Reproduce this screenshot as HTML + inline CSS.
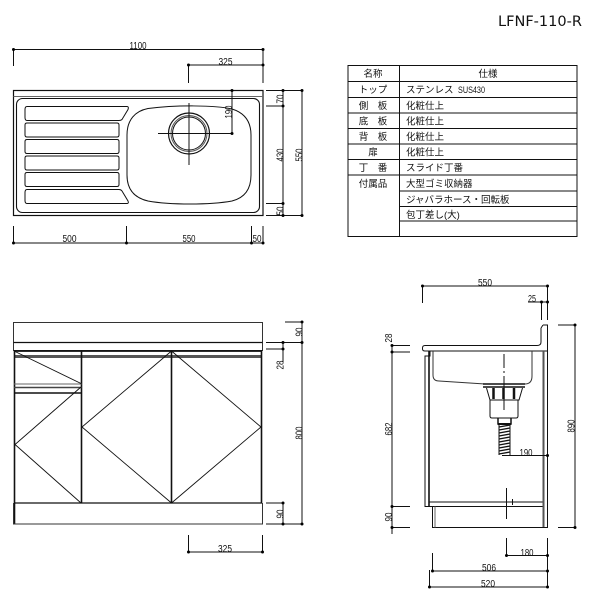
<!DOCTYPE html>
<html><head><meta charset="utf-8"><style>
html,body{margin:0;padding:0;background:#fff}
svg{display:block}
text{font-family:"Liberation Sans",sans-serif;fill:#111}
.d{font-size:10px;text-anchor:middle}
.j{font-family:"Liberation Sans","Noto Sans CJK JP",sans-serif;font-size:9.5px}
.c{text-anchor:middle}
</style></head><body>
<svg width="600" height="600" viewBox="0 0 600 600" xmlns="http://www.w3.org/2000/svg">
<defs>
<circle id="p" r="1.5" fill="#000"/>
</defs>
<text x="498" y="26" style="font-family:'DejaVu Sans',sans-serif;font-size:14.5px" textLength="84" lengthAdjust="spacingAndGlyphs">LFNF-110-R</text>

<!-- plan view -->
<g fill="none" stroke="#111" stroke-width="1">
<path d="M13.500 49.500H263M13.500 49.500V66M188.500 65H263M188.500 65V83M263 49.500V83"/>
<rect x="13.500" y="90.500" width="249.500" height="125" stroke-width="1.200"/>
<path d="M13.500 96.500H263" stroke="#666"/>
<rect x="16.500" y="98.500" width="243" height="114" rx="6" stroke-width="1.100"/>
<path d="M27 106.500H127q2 0 1 3l-6 10q-1 1-3 1H27q-2 0-2-3v-8q0-3 2-3z"/>
<path d="M27 123H117q2 0 2 2v10q0 2-2 2H27q-2 0-2-2v-10q0-2 2-2z"/>
<path d="M27 139.500H117q2 0 2 2v10q0 2-2 2H27q-2 0-2-2v-10q0-2 2-2z"/>
<path d="M27 156H117q2 0 2 2v10q0 2-2 2H27q-2 0-2-2v-10q0-2 2-2z"/>
<path d="M27 172.500H117q2 0 2 2v10q0 2-2 2H27q-2 0-2-2v-10q0-2 2-2z"/>
<path d="M27 189.500H119q2 0 3 1.500l6 10q1 2.500-1 2.500H27q-2 0-2-3v-8q0-3 2-3z"/>
<path d="M148 108.500C175 105 215 105 232 109C245 113 251 122 251 135V175C251 190 244 198 232 201C210 205 170 205 148 201C135 198 127 190 127 175V135C127 120 135 111 148 108.500Z"/>
<circle cx="189" cy="133.500" r="20.500" stroke-width="1.200"/>
<circle cx="189" cy="133.500" r="18" stroke="#555"/>
<circle cx="189" cy="133.500" r="16.500"/>
<path d="M158 133.500H232M232 90.500V133.500M189 103V165"/>
<path d="M266 90.500H302M266 106H283M266 203.500H283M266 215.500H302"/>
<path d="M283 90.500V215.500M302 90.500V215.500"/>
<path d="M13.500 226V243M126.500 226V243M251.500 226V243M263 226V243M13.500 243H263"/>
</g>
<g>
<use href="#p" x="13.500" y="49.500"/><use href="#p" x="263" y="49.500"/>
<use href="#p" x="188.500" y="65"/><use href="#p" x="263" y="65"/>
<use href="#p" x="232" y="90.500"/><use href="#p" x="232" y="133.500"/>
<use href="#p" x="283" y="90.500"/><use href="#p" x="283" y="106"/><use href="#p" x="283" y="203.500"/><use href="#p" x="283" y="215.500"/>
<use href="#p" x="302" y="90.500"/><use href="#p" x="302" y="215.500"/>
<use href="#p" x="13.500" y="243"/><use href="#p" x="126.500" y="243"/><use href="#p" x="251.500" y="243"/><use href="#p" x="263" y="243"/>
</g>
<g class="d">
<text x="138" y="49" textLength="17" lengthAdjust="spacingAndGlyphs">1100</text>
<text x="225.500" y="65" textLength="14" lengthAdjust="spacingAndGlyphs">325</text>
<text x="69.500" y="242" textLength="14" lengthAdjust="spacingAndGlyphs">500</text>
<text x="189" y="242" textLength="13" lengthAdjust="spacingAndGlyphs">550</text>
<text x="257" y="242" textLength="9" lengthAdjust="spacingAndGlyphs">50</text>
<text transform="translate(232,112) rotate(-90)" textLength="13" lengthAdjust="spacingAndGlyphs">190</text>
<text transform="translate(283.500,99) rotate(-90)" textLength="9" lengthAdjust="spacingAndGlyphs">70</text>
<text transform="translate(283.500,155) rotate(-90)" textLength="13" lengthAdjust="spacingAndGlyphs">430</text>
<text transform="translate(283.500,211) rotate(-90)" textLength="9" lengthAdjust="spacingAndGlyphs">50</text>
<text transform="translate(302.500,155) rotate(-90)" textLength="13" lengthAdjust="spacingAndGlyphs">550</text>
</g>

<!-- table -->
<g fill="none" stroke="#111" stroke-width="1">
<rect x="348" y="65.500" width="229" height="171"/>
<path d="M399.500 65.500V236.500"/>
<path d="M348 81.500H577M348 97.500H577M348 113H577M348 128.500H577M348 144H577M348 159.500H577M348 175H577M399.500 191H577M399.500 206.500H577M399.500 221H577"/>
</g>
<g class="j">
<text class="c" x="373" y="77">名称</text><text class="c" x="488" y="77">仕様</text>
<text class="c" x="373" y="93">トップ</text><text x="406" y="93">ステンレス</text><text x="458" y="93" textLength="27" lengthAdjust="spacingAndGlyphs">SUS430</text>
<text class="c" x="373" y="109">側　板</text><text x="406" y="109">化粧仕上</text>
<text class="c" x="373" y="124.500">底　板</text><text x="406" y="124.500">化粧仕上</text>
<text class="c" x="373" y="140">背　板</text><text x="406" y="140">化粧仕上</text>
<text class="c" x="373" y="155.500">扉</text><text x="406" y="155.500">化粧仕上</text>
<text class="c" x="373" y="171">丁　番</text><text x="406" y="171">スライド丁番</text>
<text class="c" x="373" y="187">付属品</text><text x="406" y="187">大型ゴミ収納器</text>
<text x="406" y="203">ジャバラホース・回転板</text>
<text x="406" y="218">包丁差し(大)</text>
</g>

<!-- front elevation -->
<g fill="none" stroke="#111" stroke-width="1">
<rect x="13.500" y="322.500" width="249" height="28" stroke="#333"/>
<path d="M13.500 342.500H262.500" stroke-width="1.200"/>
<path d="M14 351H262" stroke-width="1.800"/>
<path d="M14 356.500H262" stroke="#555" stroke-width="3"/>
<path d="M14.500 350V524M81.500 350V503M171.500 350V503M261.500 350V503" stroke-width="1.600"/>
<path d="M14 503H262" stroke-width="1.300"/>
<path d="M13.500 503V524H262.500V503" stroke="#333"/>
<path d="M14 384H81.500" stroke="#666"/>
<path d="M14 387.500H81.500" stroke="#444" stroke-width="1.500"/>
<path d="M14 393H81.500" stroke-width="1.600"/>
<path d="M14 351L81 383.500M81 387L15 444.500L81 503M171.500 351L82 427L171.500 503L261 427Z" stroke-width=".9"/>
<path d="M285 322H302M266 342.500H302M266 349H283M266 503H283M266 524H302"/>
<path d="M302 322V524M283 342.500V362M283 503V524"/>
<path d="M188.500 535V552M262.500 535V552M188.500 552H262.500"/>
</g>
<g>
<use href="#p" x="302" y="322"/><use href="#p" x="302" y="342.500"/><use href="#p" x="302" y="524"/>
<use href="#p" x="283" y="342.500"/><use href="#p" x="283" y="349"/><use href="#p" x="283" y="503"/><use href="#p" x="283" y="524"/>
<use href="#p" x="188.500" y="552"/><use href="#p" x="262.500" y="552"/>
</g>
<g class="d">
<text x="225" y="552" textLength="14" lengthAdjust="spacingAndGlyphs">325</text>
<text transform="translate(302.500,332) rotate(-90)" textLength="9" lengthAdjust="spacingAndGlyphs">90</text>
<text transform="translate(283.500,365) rotate(-90)" textLength="9" lengthAdjust="spacingAndGlyphs">28</text>
<text transform="translate(302.500,433) rotate(-90)" textLength="13" lengthAdjust="spacingAndGlyphs">800</text>
<text transform="translate(283.500,514) rotate(-90)" textLength="9" lengthAdjust="spacingAndGlyphs">90</text>
</g>

<!-- side section -->
<g fill="none" stroke="#111" stroke-width="1">
<path d="M422.500 286H547.500M422.500 286V303M547.500 286V303"/>
<path d="M528 302H547.500M541.500 302V320M547.500 302V320"/>
<path d="M543 325H547.500V527.500H432.500V506.500M541 328L543 325M541 328V342Q541 345.500 537 345.500H425Q422.500 345.500 422.500 348V349Q422.500 351 425 351H547"/>
<path d="M430 351V356H425V361M425 361V506.500H429M429 502H544M429 506.500H544"/>
<path d="M435 506.500V527.500" stroke="#666"/>
<path d="M543.500 351V527" stroke="#555" stroke-width="2"/>
<path d="M429 351V506" stroke-width="1.600"/>
<path d="M433 351V375Q433 381 439 381L485 384H525Q532 384 532 376V351" stroke="#333"/>
<path d="M504 354V410" stroke-dasharray="14 3 2 3"/>
<path d="M483 384H525" stroke-width="1.600"/>
<path d="M483 387H525" stroke-width="1.600"/>
<path d="M486.500 388L490 400H519L522.500 388M490 400V416Q490 418 492 418H516Q518 418 518 416V400"/>
<path d="M493.500 388V399M503.500 388V399M514 388V399" stroke-width="2.500"/>
<path d="M498 418V424H511V418" stroke-width="1.500"/>
<path d="M498 424H511" stroke-width="2"/>
<path d="M499 425V455M510 425V455"/>
<path d="M499 427L510 425M499 430L510 428M499 433L510 431M499 436L510 434M499 439L510 437M499 442L510 440M499 445L510 443M499 448L510 446M499 451L510 449M499 454L510 452" stroke-width="1.300"/>
<path d="M502 455.500H547"/>
<path d="M491 502H522M506.500 488V519M512.500 499V505"/>
<path d="M392 345.500V534M392 345.500H410M392 352H410M392 506.500H410M392 527.500H410"/>
<path d="M558 325H575M575 325V527.500M558 527.500H575"/>
<path d="M506.500 538V555.500M547.500 538V555.500M506.500 555.500H547.500"/>
<path d="M432.500 553V571M432.500 571H547.500M547.500 555.500V587"/>
<path d="M429.500 570V587M429.500 587H547.500"/>
</g>
<g>
<use href="#p" x="422.500" y="286"/><use href="#p" x="547.500" y="286"/>
<use href="#p" x="541.500" y="302"/><use href="#p" x="547.500" y="302"/>
<use href="#p" x="392" y="345.500"/><use href="#p" x="392" y="352"/><use href="#p" x="392" y="506.500"/><use href="#p" x="392" y="527.500"/>
<use href="#p" x="575" y="325"/><use href="#p" x="575" y="527.500"/>
<use href="#p" x="547.500" y="455.500"/>
<use href="#p" x="506.500" y="555.500"/><use href="#p" x="547.500" y="555.500"/>
<use href="#p" x="432.500" y="571"/><use href="#p" x="547.500" y="571"/>
<use href="#p" x="429.500" y="587"/><use href="#p" x="547.500" y="587"/>
</g>
<g class="d">
<text x="485" y="286" textLength="14" lengthAdjust="spacingAndGlyphs">550</text>
<text x="532" y="302" textLength="8" lengthAdjust="spacingAndGlyphs">25</text>
<text x="526" y="456" textLength="13" lengthAdjust="spacingAndGlyphs">190</text>
<text x="527" y="556" textLength="13" lengthAdjust="spacingAndGlyphs">180</text>
<text x="489" y="571" textLength="14" lengthAdjust="spacingAndGlyphs">506</text>
<text x="488" y="587" textLength="14" lengthAdjust="spacingAndGlyphs">520</text>
<text transform="translate(392,338) rotate(-90)" textLength="9" lengthAdjust="spacingAndGlyphs">28</text>
<text transform="translate(392,429) rotate(-90)" textLength="13" lengthAdjust="spacingAndGlyphs">682</text>
<text transform="translate(392,517) rotate(-90)" textLength="9" lengthAdjust="spacingAndGlyphs">90</text>
<text transform="translate(574.500,426) rotate(-90)" textLength="13" lengthAdjust="spacingAndGlyphs">890</text>
</g>
</svg>
</body></html>
